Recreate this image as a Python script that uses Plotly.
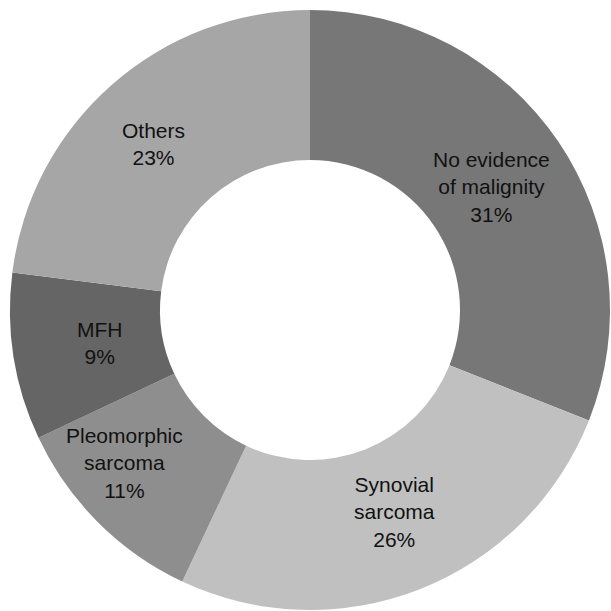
import math
import plotly.graph_objects as go

# Diagnosis breakdown (percent of cases), clockwise from 12 o'clock
categories = ["No evidence of malignity", "Synovial sarcoma", "Pleomorphic sarcoma", "MFH", "Others"]
label_lines = ["No evidence<br>of malignity", "Synovial<br>sarcoma", "Pleomorphic<br>sarcoma", "MFH", "Others"]
values = [31, 26, 11, 9, 23]

colors = ["#777777", "#c0c0c0", "#8e8e8e", "#656565", "#a6a6a6"]
label_radius = [0.73, 0.73, 0.80, 0.71, 0.76]   # fraction of outer radius
label_shift_deg = [0, -1, 5.5, 0, -2]             # nudge from the slice's mid-angle

W = H = 611
cx, cy, R = 310, 310, 300

fig = go.Figure(go.Pie(
    labels=categories,
    values=values,
    hole=0.5,
    sort=False,
    direction="clockwise",
    rotation=0,
    marker=dict(colors=colors, line=dict(width=0)),
    textinfo="none",
    hoverinfo="label+percent",
    domain=dict(x=[(cx - R) / W, (cx + R) / W], y=[1 - (cy + R) / H, 1 - (cy - R) / H]),
))

# Slice labels placed around each slice's mid-angle
total = sum(values)
cum = 0
annotations = []
for text, v, rf, shift in zip(label_lines, values, label_radius, label_shift_deg):
    mid = (cum + v / 2) / total * 2 * math.pi + math.radians(shift)
    cum += v
    px = cx + rf * R * math.sin(mid)
    py = cy - rf * R * math.cos(mid)
    pct = round(v / total * 100)
    annotations.append(dict(
        x=px / W, y=1 - py / H, xref="paper", yref="paper",
        text=f"{text}<br>{pct}%", showarrow=False,
        font=dict(family="Liberation Sans, Arial, sans-serif", size=21, color="#111111"),
        align="center", xanchor="center", yanchor="middle",
    ))

fig.update_layout(
    width=W, height=H,
    margin=dict(l=0, r=0, t=0, b=0),
    paper_bgcolor="white",
    plot_bgcolor="white",
    showlegend=False,
    annotations=annotations,
)

fig.write_html("out.html")
